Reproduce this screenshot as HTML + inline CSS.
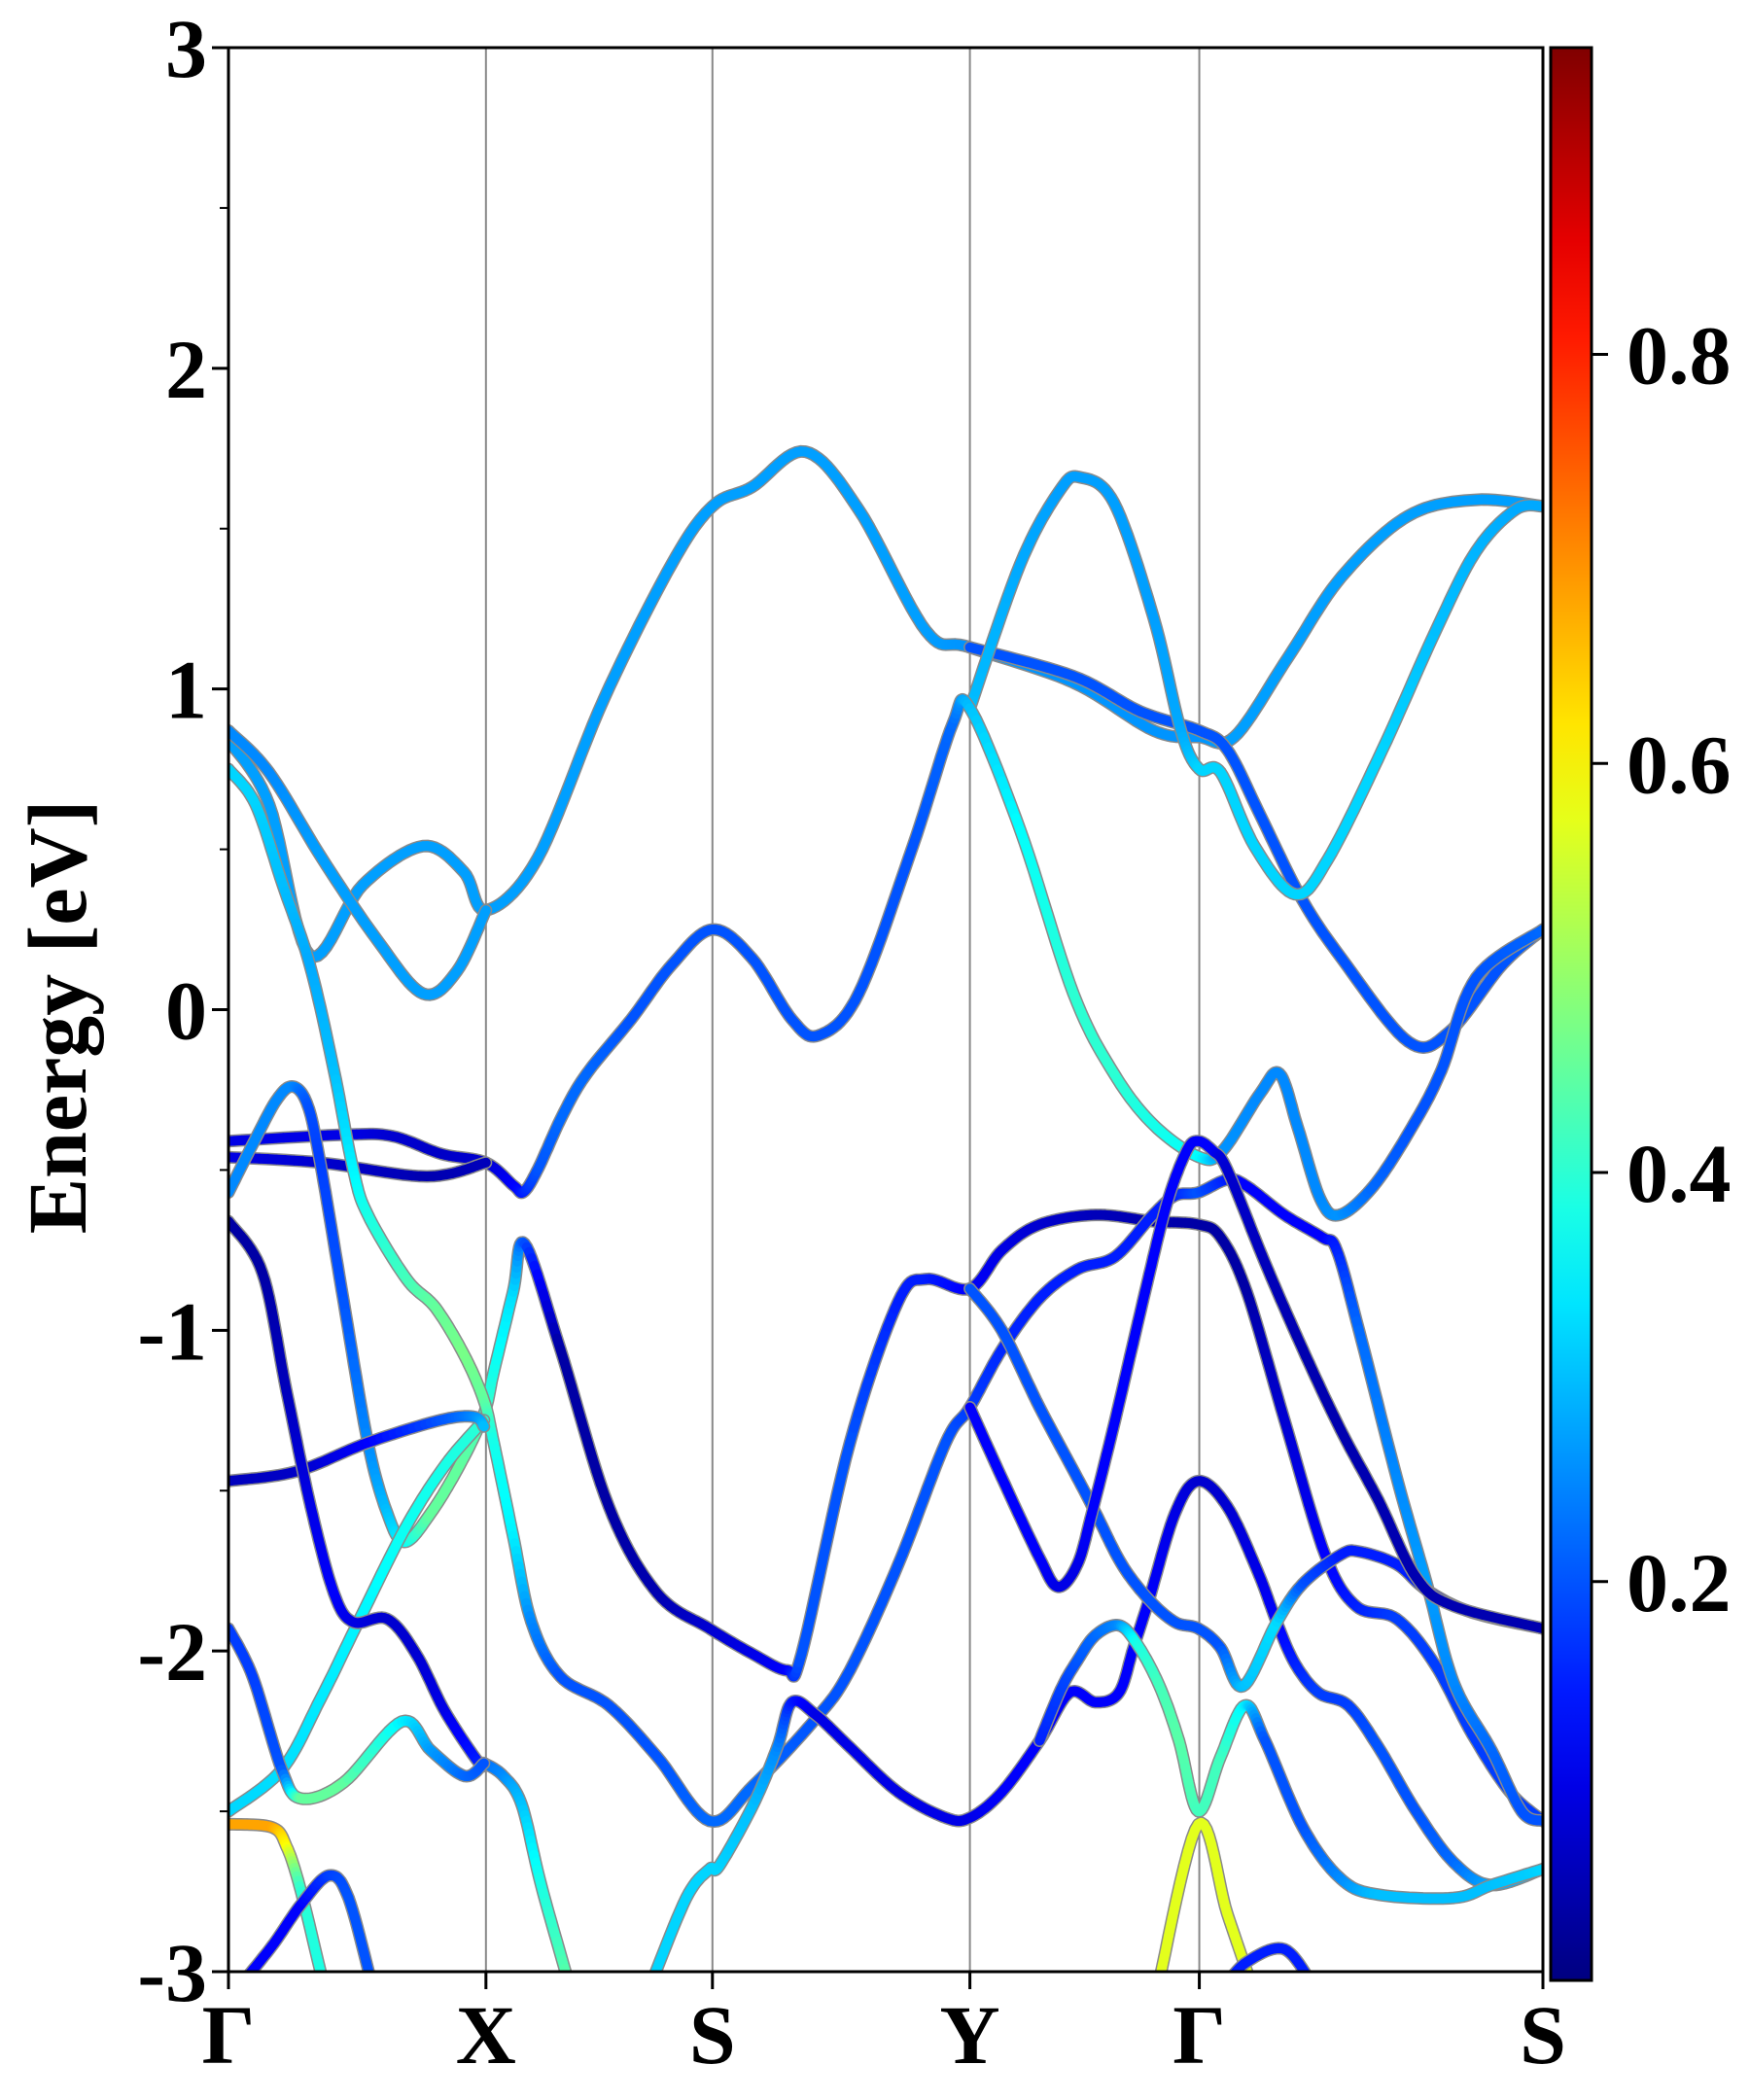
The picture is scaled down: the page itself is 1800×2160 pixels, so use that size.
<!DOCTYPE html>
<html><head><meta charset="utf-8">
<style>
html,body{margin:0;padding:0;background:#fff;}
svg{display:block;font-family:"Liberation Serif",serif;font-weight:bold;}
</style></head>
<body>
<svg id="chart" width="1800" height="2160" viewBox="0 0 1800 2160" xmlns="http://www.w3.org/2000/svg">
<g id="grid"></g>
<g id="bands"></g>
<g id="axes"></g>
<g id="cbar"></g>
<text x="0" y="0" transform="translate(88,1046) rotate(-90)" text-anchor="middle" font-size="86">Energy [eV]</text>
</svg>
<script>
const kLabels = ["Γ","X","S","Y","Γ","S"];
const kNodes = [0,266,500,766,1003,1358];
const yTicks = [-3,-2,-1,0,1,2,3];
const cbTicks = [0.2,0.4,0.6,0.8];
const cbRange = [0.005,0.95];
// bands: [k, E, weight]
const band1 = [[0,.84,.27],[42,.64,.27],[84,.17,.27],[139,.39,.27],[201,.51,.27],[243,.43,.27],[266,.31,.27],[319,.47,.27],[388,.97,.27],[458,1.39,.27],[500,1.57,.27],[541,1.63,.27],[596,1.74,.27],[651,1.56,.27],[721,1.18,.27],[766,1.13,.26],[873,1.02,.26],[956,.87,.26],[1003,.85,.26],[1039,.85,.27],[1095,1.10,.27],[1150,1.35,.27],[1219,1.54,.27],[1289,1.59,.27],[1358,1.57,.27]];
const band2 = [[0,.87,.25],[42,.74,.25],[97,.47,.27],[153,.22,.27],[201,.05,.27],[236,.12,.27],[266,.31,.27]];
const band3 = [[766,1.13,.2],[873,1.04,.2],[942,.93,.2],[1003,.87,.2],[1032,.81,.2],[1067,.60,.2],[1108,.35,.2],[1150,.16,.2],[1219,-.10,.2],[1261,-.07,.2],[1316,.14,.2],[1358,.25,.22]];
const band4 = [[766,.94,.3],[818,1.39,.28],[859,1.62,.27],[880,1.66,.27],[915,1.58,.27],[956,1.22,.27],[984,.87,.28],[1003,.75,.32],[1025,.74,.32],[1060,.51,.32],[1102,.36,.32],[1136,.47,.32],[1192,.81,.32],[1247,1.18,.3],[1289,1.43,.29],[1330,1.56,.28],[1358,1.57,.28]];
const band5 = [[0,-.41,.1],[120,-.39,.1],[170,-.395,.08],[220,-.45,.07],[266,-.477,.08],[295,-.55,.12],[305,-.568,.15],[320,-.495,.2],[345,-.33,.22],[370,-.2,.22],[416,-.03,.2],[458,.14,.2],[500,.25,.2],[541,.16,.2],[582,-.03,.2],[610,-.08,.2],[651,.05,.2],[707,.51,.2],[748,.89,.22],[766,.94,.3],[818,.56,.36],[873,.05,.4],[915,-.20,.4],[956,-.36,.38],[1003,-.46,.36],[1027,-.44,.26],[1066,-.26,.25],[1086,-.20,.25],[1105,-.37,.25],[1128,-.59,.25],[1148,-.64,.26],[1183,-.55,.22],[1222,-.37,.2],[1253,-.19,.2],[1289,.10,.2],[1358,.25,.22]];
const band6 = [[0,-.46,.1],[95,-.477,.08],[205,-.52,.05],[266,-.477,.06]];
const band7 = [[0,-.57,.25],[25,-.42,.25],[50,-.28,.25],[67,-.24,.25],[82,-.30,.2],[95,-.48,.18],[119,-.91,.2],[144,-1.35,.25],[164,-1.57,.3],[182,-1.66,.36],[209,-1.57,.45],[239,-1.42,.45],[264,-1.26,.42],[274,-1.13,.38],[294,-.88,.33],[306,-.73,.2],[343,-1.06,.04],[393,-1.55,.04],[443,-1.82,.05],[497,-1.93,.08],[542,-2.01,.1],[577,-2.06,.12],[592,-2.01,.2],[642,-1.35,.2],[692,-.91,.15],[721,-.84,.15],[766,-.87,.12],[799,-.75,.1],[838,-.67,.08],[896,-.64,.06],[955,-.66,.05],[1002,-.67,.04],[1025,-.71,.04],[1052,-.88,.04],[1091,-1.28,.08],[1133,-1.70,.12],[1165,-1.86,.15],[1207,-1.90,.18],[1246,-2.04,.18],[1285,-2.26,.18],[1324,-2.44,.18],[1358,-2.53,.18]];
const band8 = [[0,.75,.32],[28,.64,.32],[56,.39,.3],[84,.14,.28],[109,-.19,.3],[129,-.50,.35],[144,-.64,.38],[184,-.84,.42],[214,-.93,.45],[244,-1.08,.47],[264,-1.22,.45],[274,-1.35,.38],[294,-1.64,.35],[313,-1.91,.25],[343,-2.08,.2],[393,-2.17,.2],[443,-2.33,.2],[497,-2.53,.22],[542,-2.42,.22],[607,-2.21,.2],[642,-2.06,.2],[692,-1.73,.2],[741,-1.35,.2],[766,-1.24,.18],[799,-1.06,.16],[838,-.90,.15],[877,-.81,.15],[916,-.77,.15],[955,-.64,.15],[978,-.58,.15],[1002,-.57,.2],[1032,-.53,.15],[1052,-.55,.12],[1091,-.64,.12],[1130,-.71,.12],[1145,-.75,.15],[1168,-1.0,.22],[1207,-1.46,.25],[1238,-1.79,.27],[1266,-2.10,.25],[1305,-2.31,.22],[1336,-2.50,.2],[1358,-2.53,.2]];
const band9 = [[0,-2.50,.32],[55,-2.37,.33],[95,-2.15,.34],[134,-1.91,.35],[182,-1.62,.37],[224,-1.42,.38],[264,-1.28,.4]];
const band10 = [[0,-1.47,.06],[70,-1.44,.07],[144,-1.35,.12],[219,-1.28,.2],[254,-1.27,.25],[264,-1.30,.3]];
const band11 = [[0,-.66,.04],[35,-.82,.04],[60,-1.19,.06],[85,-1.55,.1],[109,-1.82,.12],[129,-1.91,.1],[164,-1.90,.08],[194,-2.01,.08],[224,-2.19,.1],[259,-2.35,.15],[264,-2.35,.22],[284,-2.39,.25],[303,-2.48,.3],[323,-2.73,.38],[353,-3.05,.45]];
const band12 = [[0,-1.93,.18],[25,-2.08,.18],[55,-2.37,.2],[75,-2.46,.45],[119,-2.41,.45],[179,-2.22,.35],[209,-2.31,.27],[244,-2.39,.22],[264,-2.35,.2]];
const band13 = [[0,-2.54,.68],[45,-2.55,.68],[60,-2.61,.6],[75,-2.75,.4],[99,-3.05,.38]];
const band14 = [[10,-3.05,.12],[45,-2.92,.12],[75,-2.79,.12],[104,-2.70,.18],[124,-2.77,.2],[149,-3.05,.2]];
const band15 = [[435,-3.05,.32],[473,-2.77,.32],[497,-2.68,.32],[507,-2.67,.32],[542,-2.48,.3],[567,-2.30,.25],[582,-2.16,.15],[607,-2.2,.1],[642,-2.30,.1],[692,-2.44,.1],[741,-2.52,.1],[766,-2.52,.1],[799,-2.44,.12],[838,-2.28,.12],[869,-2.13,.12],[896,-2.16,.12],[920,-2.13,.12],[935,-1.99,.12],[951,-1.84,.12],[978,-1.57,.1],[1002,-1.47,.08],[1032,-1.55,.08],[1063,-1.75,.1],[1083,-1.91,.12],[1102,-2.04,.15],[1126,-2.13,.18],[1157,-2.17,.18],[1188,-2.30,.2],[1227,-2.50,.2],[1266,-2.66,.22],[1305,-2.73,.28],[1358,-2.68,.3]];
const band16 = [[766,-.87,.2],[799,-1.0,.2],[838,-1.24,.2],[877,-1.46,.2],[896,-1.57,.2],[923,-1.73,.2],[951,-1.84,.2],[978,-1.91,.2],[1002,-1.93,.2],[1025,-1.99,.2],[1048,-2.11,.3],[1083,-1.91,.33],[1110,-1.79,.2],[1149,-1.70,.15],[1168,-1.69,.15],[1207,-1.73,.15],[1238,-1.81,.15],[1285,-1.88,.1],[1358,-1.93,.08]];
const band17 = [[766,-1.24,.12],[799,-1.46,.12],[838,-1.71,.12],[857,-1.80,.1],[877,-1.73,.1],[892,-1.57,.12],[916,-1.28,.12],[947,-.88,.12],[970,-.60,.12],[990,-.44,.12],[1002,-.41,.12],[1017,-.44,.12],[1032,-.50,.08],[1071,-.79,.06],[1110,-1.06,.05],[1149,-1.31,.05],[1188,-1.53,.05],[1227,-1.77,.05],[1266,-1.86,.05],[1358,-1.93,.05]];
const band18 = [[960,-3.05,.57],[1002,-2.54,.57],[1032,-2.82,.57],[1058,-3.05,.57]];
const band19 = [[838,-2.28,.15],[860,-2.12,.18],[877,-2.03,.2],[896,-1.95,.22],[920,-1.92,.25],[939,-1.98,.38],[962,-2.11,.42],[982,-2.28,.44],[1002,-2.50,.42],[1025,-2.33,.42],[1050,-2.17,.35],[1071,-2.28,.2],[1110,-2.55,.2],[1149,-2.71,.25],[1188,-2.76,.3],[1266,-2.77,.3],[1305,-2.73,.3],[1358,-2.68,.32]];
const band20 = [[1028,-3.05,.15],[1052,-2.97,.15],[1091,-2.93,.15],[1122,-3.05,.15]];
const allBands = [band1,band2,band3,band4,band5,band6,band7,band8,band9,band10,band11,band12,band13,band14,band15,band16,band17,band18,band19,band20];

const NS="http://www.w3.org/2000/svg";
const L=235,R=1587,T=49,B=2028;
const Emin=-3,Emax=3;
function xOf(k){return L+k*(R-L)/kNodes[kNodes.length-1];}
function yOf(E){return B-(E-Emin)*(B-T)/(Emax-Emin);}
function mk(tag,attrs,parent){const e=document.createElementNS(NS,tag);for(const a in attrs)e.setAttribute(a,attrs[a]);parent.appendChild(e);return e;}
function jet(v){
  v=Math.max(0,Math.min(1,v));
  const r=Math.max(0,Math.min(1,1.5-Math.abs(4*v-3)));
  const g=Math.max(0,Math.min(1,1.5-Math.abs(4*v-2)));
  const b=Math.max(0,Math.min(1,1.5-Math.abs(4*v-1)));
  return `rgb(${Math.round(r*255)},${Math.round(g*255)},${Math.round(b*255)})`;
}
function norm(w){return (w-cbRange[0])/(cbRange[1]-cbRange[0]);}

const svg=document.getElementById('chart');
const defs=mk('defs',{},svg);
const cp=mk('clipPath',{id:'plotclip'},defs);
mk('rect',{x:L,y:T,width:R-L,height:B-T},cp);

const grid=document.getElementById('grid');
for(let i=1;i<kNodes.length-1;i++){
  const ln=mk('line',{x1:xOf(kNodes[i]),x2:xOf(kNodes[i]),y1:T,y2:B,stroke:'#888',"stroke-width":2},grid);
  
  
}

const bandsG=document.getElementById('bands');
bandsG.setAttribute('clip-path','url(#plotclip)');
function densify(pts){
  const P=pts.map(p=>[xOf(p[0]),yOf(p[1]),p[2]]);
  const out=[];
  for(let i=0;i<P.length-1;i++){
    const p0=P[Math.max(0,i-1)],p1=P[i],p2=P[i+1],p3=P[Math.min(P.length-1,i+2)];
    const n=12;
    for(let s=0;s<n;s++){
      const t=s/n,t2=t*t,t3=t2*t;
      const x=0.5*((2*p1[0])+(-p0[0]+p2[0])*t+(2*p0[0]-5*p1[0]+4*p2[0]-p3[0])*t2+(-p0[0]+3*p1[0]-3*p2[0]+p3[0])*t3);
      const y=0.5*((2*p1[1])+(-p0[1]+p2[1])*t+(2*p0[1]-5*p1[1]+4*p2[1]-p3[1])*t2+(-p0[1]+3*p1[1]-3*p2[1]+p3[1])*t3);
      out.push([x,y,p1[2]+(p2[2]-p1[2])*t]);
    }
  }
  const last=P[P.length-1];out.push(last);
  return out;
}
allBands.forEach((bd,bi)=>{
  const g=mk('g',{},bandsG);
  
  
  const D=densify(bd);
  const d='M'+D.map(p=>p[0].toFixed(1)+','+p[1].toFixed(1)).join('L');
  mk('path',{d:d,fill:'none',stroke:'#8a8a8a',"stroke-width":13,"stroke-linejoin":'round',"stroke-linecap":'round'},g);
  for(let i=0;i<D.length-1;i++){
    const w=(D[i][2]+D[i+1][2])/2;
    mk('line',{x1:D[i][0].toFixed(1),y1:D[i][1].toFixed(1),x2:D[i+1][0].toFixed(1),y2:D[i+1][1].toFixed(1),stroke:jet(norm(w)),"stroke-width":10,"stroke-linecap":'round'},g);
  }
});

const ax=document.getElementById('axes');
const frame=mk('rect',{x:L,y:T,width:R-L,height:B-T,fill:'none',stroke:'#000',"stroke-width":3},ax);


yTicks.forEach(v=>{
  const y=yOf(v);
  mk('line',{x1:L-17,x2:L,y1:y,y2:y,stroke:'#000',"stroke-width":3},ax);
  const t=mk('text',{x:L-22,y:y+30,"text-anchor":'end',"font-size":86},ax);
  t.textContent=String(v);
  
  
});
for(let v=-2.5;v<3;v+=1){
  const y=yOf(v);
  mk('line',{x1:L-9,x2:L,y1:y,y2:y,stroke:'#000',"stroke-width":2},ax);
}
kNodes.forEach((k,i)=>{
  const x=xOf(k);
  mk('line',{x1:x,x2:x,y1:B,y2:B+18,stroke:'#000',"stroke-width":3},ax);
  const t=mk('text',{x:x,y:2122,"text-anchor":'middle',"font-size":86},ax);
  t.textContent=kLabels[i];
  
  
});

const cb=document.getElementById('cbar');
const CX=1595,CW=42,CT=49,CB=2037;
const lg=mk('linearGradient',{id:'jetgrad',x1:0,y1:1,x2:0,y2:0},defs);
for(let i=0;i<=20;i++){mk('stop',{offset:(i/20),"stop-color":jet(i/20)},lg);}
const cbr=mk('rect',{x:CX,y:CT,width:CW,height:CB-CT,fill:'url(#jetgrad)',stroke:'#000',"stroke-width":3},cb);


cbTicks.forEach(v=>{
  const y=CB-(v-cbRange[0])/(cbRange[1]-cbRange[0])*(CB-CT);
  mk('line',{x1:CX+CW,x2:CX+CW+17,y1:y,y2:y,stroke:'#000',"stroke-width":3},cb);
  const t=mk('text',{x:1673,y:y+30,"text-anchor":'start',"font-size":86},cb);
  t.textContent=v.toFixed(1);
  
  
});
</script>
</body></html>
